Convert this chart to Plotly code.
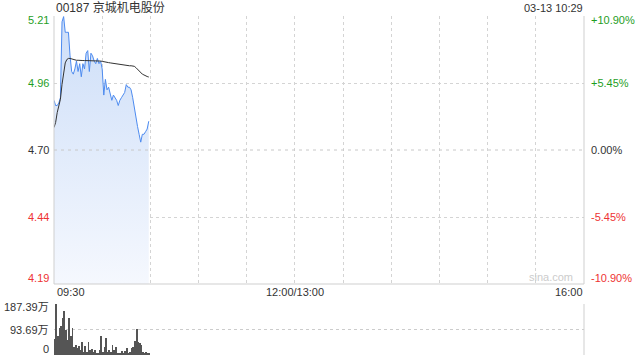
import plotly.graph_objects as go

# ---------------- data ----------------
title_text = "00187 京城机电股份"
stamp_text = "03-13 10:29"
prev_close = 4.70
pct_limit = 0.109

# minute index from 09:30 (lunch break compressed: 12:00/13:00 = 150, 16:00 = 330)
minutes = list(range(60))
price = [4.89, 4.87, 4.87, 4.88, 4.90, 5.19, 5.21, 5.15, 5.15, 5.15,
         5.06, 5.00, 4.99, 5.01, 5.04, 5.00, 5.03, 4.98, 5.03, 5.01,
         5.07, 5.08, 5.00, 5.07, 5.06, 5.04, 5.03, 5.05, 5.03, 5.04,
         5.01, 4.91, 4.97, 4.93, 4.94, 4.91, 4.89, 4.91, 4.90, 4.89,
         4.87, 4.89, 4.90, 4.91, 4.92, 4.95, 4.94, 4.94, 4.93, 4.90,
         4.86, 4.83, 4.79, 4.76, 4.73, 4.76, 4.76, 4.77, 4.78, 4.81]
avg_price = [4.786, 4.805, 4.843, 4.869, 4.894, 4.951, 5.002, 5.033, 5.046, 5.050,
             5.050, 5.048, 5.045, 5.043, 5.043, 5.043, 5.042, 5.042, 5.042, 5.042,
             5.042, 5.042, 5.042, 5.041, 5.041, 5.041, 5.041, 5.040, 5.040, 5.040,
             5.039, 5.037, 5.036, 5.035, 5.034, 5.033, 5.032, 5.030, 5.029, 5.028,
             5.027, 5.026, 5.026, 5.025, 5.025, 5.024, 5.023, 5.022, 5.022, 5.021,
             5.020, 5.015, 5.008, 5.001, 4.995, 4.990, 4.987, 4.983, 4.981, 4.979]
volume_wan = [59, 187, 68, 99, 105, 136, 160, 92, 55, 136,
              68, 99, 28, 37, 25, 33, 18, 46, 12, 33,
              12, 47, 18, 21, 12, 18, 9, 6, 18, 68,
              12, 31, 62, 12, 18, 12, 37, 18, 28, 9,
              9, 6, 16, 6, 16, 25, 6, 12, 25, 28,
              52, 96, 46, 43, 37, 12, 9, 12, 9, 6]

price_ticks = [5.21, 4.96, 4.70, 4.44, 4.19]
price_tick_text = ["5.21", "4.96", "4.70", "4.44", "4.19"]
pct_tick_text = ["+10.90%", "+5.45%", "0.00%", "-5.45%", "-10.90%"]
vol_tick_text = ["187.39万", "93.69万", "0"]
vol_max = 187.39
time_grid = [30, 60, 90, 120, 150, 180, 210, 240, 270, 300]
time_labels = ["09:30", "12:00/13:00", "16:00"]

# ---------------- layout helpers ----------------
W, H = 640, 360
x0px, x1px = 54, 584
main_top, main_bot = 16, 284
vol_top, vol_bot = 304, 355

def py(px):
    return 1 - px / H

def pxx(px):
    return px / W

ymax = prev_close * (1 + pct_limit)
ymin = prev_close * (1 - pct_limit)
levels = [ymax, prev_close * (1 + pct_limit / 2), prev_close, prev_close * (1 - pct_limit / 2), ymin]

GREEN = "#1f9e1f"
RED = "#ee3333"
DARK = "#333333"
FONT = "Arial, Liberation Sans, Noto Sans CJK SC, sans-serif"
colors = [GREEN, GREEN, DARK, RED, RED]

fig = go.Figure()

fig.add_trace(go.Scatter(
    x=minutes, y=price, mode="lines",
    line=dict(color="#4d8bf0", width=1),
    fill="tozeroy",
    fillgradient=dict(type="vertical", start=ymin, stop=ymax,
                      colorscale=[[0, "rgba(245,248,254,1)"], [1, "rgba(205,222,248,1)"]]),
    xaxis="x", yaxis="y", hoverinfo="skip", showlegend=False,
))
fig.add_trace(go.Scatter(
    x=minutes, y=avg_price, mode="lines",
    line=dict(color="#333333", width=1),
    xaxis="x", yaxis="y", hoverinfo="skip", showlegend=False,
))
fig.add_trace(go.Bar(
    x=minutes, y=volume_wan, marker=dict(color="#555555", line=dict(width=0)),
    width=0.55, xaxis="x2", yaxis="y2", hoverinfo="skip", showlegend=False,
))

grid_color = "#d4d4d4"
fig.update_layout(
    width=W, height=H, autosize=False,
    margin=dict(l=0, r=0, t=0, b=0, pad=0),
    paper_bgcolor="white", plot_bgcolor="white",
    font=dict(family=FONT, size=11, color=DARK),
    bargap=0,
    xaxis=dict(domain=[pxx(x0px), pxx(x1px)], range=[0, 330], tickvals=time_grid,
               showgrid=True, gridcolor=grid_color, griddash="dot", gridwidth=1,
               showticklabels=False, zeroline=False, showline=False, ticks=""),
    yaxis=dict(domain=[py(main_bot), py(main_top)], range=[ymin, ymax],
               tickvals=[levels[1], levels[3]], showgrid=True, gridcolor=grid_color,
               griddash="dot", gridwidth=1, showticklabels=False, zeroline=False,
               showline=False, ticks=""),
    xaxis2=dict(domain=[pxx(x0px), pxx(x1px)], range=[-0.5, 330], showgrid=False,
                showticklabels=False, zeroline=False, showline=False, ticks="", anchor="y2"),
    yaxis2=dict(domain=[py(vol_bot), py(vol_top)], range=[0, vol_max],
                tickvals=[0, vol_max / 2, vol_max], showgrid=True, gridcolor="#cccccc",
                griddash="dot", gridwidth=1, showticklabels=False, zeroline=False,
                showline=False, ticks="", anchor="x2"),
)

shapes = []
# zero-change dashed line
shapes.append(dict(type="line", xref="x", yref="y", x0=0, x1=330, y0=prev_close, y1=prev_close,
                   line=dict(color="#c8c8c8", width=1, dash="3px,4px")))
# main plot borders (left, bottom, right)
border = "#cfcfcf"
shapes.append(dict(type="line", xref="paper", yref="paper", x0=pxx(x0px), x1=pxx(x0px),
                   y0=py(main_bot), y1=py(main_top), line=dict(color=border, width=1)))
shapes.append(dict(type="line", xref="paper", yref="paper", x0=pxx(x0px), x1=pxx(x1px),
                   y0=py(main_bot), y1=py(main_bot), line=dict(color=border, width=1)))
shapes.append(dict(type="line", xref="paper", yref="paper", x0=pxx(x1px), x1=pxx(x1px),
                   y0=py(main_bot), y1=py(main_top), line=dict(color=border, width=1)))
# volume right border
shapes.append(dict(type="line", xref="paper", yref="paper", x0=pxx(x1px), x1=pxx(x1px),
                   y0=py(vol_bot), y1=py(vol_top), line=dict(color=border, width=1)))
fig.update_layout(shapes=shapes)

ann = []
shifts = [-4, 0, 0, 0, 6]
for lv, txt, pct, c, s in zip(levels, price_tick_text, pct_tick_text, colors, shifts):
    ann.append(dict(xref="paper", yref="y", x=pxx(51), y=lv, text=txt, showarrow=False,
                    xanchor="right", yanchor="middle", yshift=s, font=dict(color=c, size=11)))
    ann.append(dict(xref="paper", yref="y", x=pxx(589), y=lv, text=pct, showarrow=False,
                    xanchor="left", yanchor="middle", yshift=s, font=dict(color=c, size=11)))
vshifts = [-3, 0, 6]
for v, txt, s in zip([vol_max, vol_max / 2, 0], vol_tick_text, vshifts):
    ann.append(dict(xref="paper", yref="y2", x=pxx(51), y=v, text=txt, showarrow=False,
                    xanchor="right", yanchor="middle", yshift=s, font=dict(color=DARK, size=11)))
# time labels
ann.append(dict(xref="paper", yref="paper", x=pxx(55), y=py(292), text=time_labels[0],
                showarrow=False, xanchor="left", yanchor="middle", font=dict(size=11)))
ann.append(dict(xref="x", yref="paper", x=150, y=py(292), text=time_labels[1],
                showarrow=False, xanchor="center", yanchor="middle", font=dict(size=11)))
ann.append(dict(xref="paper", yref="paper", x=pxx(585), y=py(292), text=time_labels[2],
                showarrow=False, xanchor="right", yanchor="middle", font=dict(size=11)))
# title & stamp
ann.append(dict(xref="paper", yref="paper", x=pxx(54), y=py(8), text=title_text,
                showarrow=False, xanchor="left", yanchor="middle", font=dict(size=12, color=DARK)))
ann.append(dict(xref="paper", yref="paper", x=pxx(585), y=py(8), text=stamp_text,
                showarrow=False, xanchor="right", yanchor="middle", font=dict(size=11, color=DARK)))
# watermark
ann.append(dict(xref="paper", yref="paper", x=pxx(575), y=py(277), text="sina.com",
                showarrow=False, xanchor="right", yanchor="middle", font=dict(size=11, color="#cccccc")))
fig.update_layout(annotations=ann)

fig.write_html("out.html", config={"displayModeBar": False})
